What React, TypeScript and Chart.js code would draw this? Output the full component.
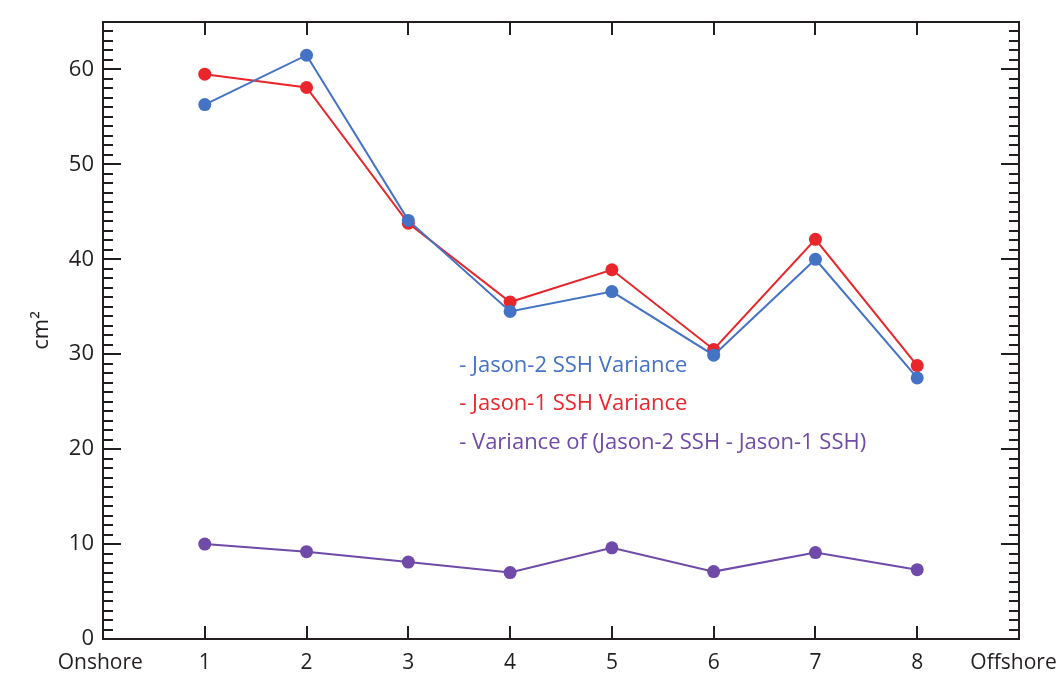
import React, { useEffect, useRef } from "react";
import { Chart, registerables } from "chart.js";

Chart.register(...registerables);

const positions = [1, 2, 3, 4, 5, 6, 7, 8];
const jason2 = [56.3, 61.5, 44.1, 34.5, 36.6, 29.9, 40.0, 27.5];
const jason1 = [59.5, 58.1, 43.8, 35.5, 38.9, 30.5, 42.1, 28.8];
const diffVar = [10.0, 9.2, 8.1, 7.0, 9.6, 7.1, 9.1, 7.3];
const endLabels = ["Onshore", "Offshore"];
const legendLines = [
  "- Jason-2 SSH Variance",
  "- Jason-1 SSH Variance",
  "- Variance of (Jason-2 SSH - Jason-1 SSH)",
];
const yTitle = "cm²";

const BLUE = "#4472c4";
const RED = "#e8262b";
const PURPLE = "#6f4aa8";
const FONT = "'Open Sans', sans-serif";
const NBSP = "\u00a0";

const framePlugin = {
  id: "frame",
  afterDraw(chart: any) {
    const { ctx, chartArea } = chart;
    const { left, right, top, bottom } = chartArea;
    const xs = chart.scales.x;
    const ys = chart.scales.y;
    ctx.save();
    ctx.strokeStyle = "#231f20";
    ctx.lineWidth = 2;
    ctx.strokeRect(left, top, right - left, bottom - top);
    ctx.beginPath();
    for (let v = ys.min; v < ys.max; v += 1) {
      const y = Math.round(ys.getPixelForValue(v));
      const len = v % 10 === 0 ? 18 : 10;
      ctx.moveTo(left, y);
      ctx.lineTo(left + len, y);
      ctx.moveTo(right, y);
      ctx.lineTo(right - len, y);
    }
    positions.forEach((p) => {
      const x = Math.round(xs.getPixelForValue(p));
      ctx.moveTo(x, bottom);
      ctx.lineTo(x, bottom - 13);
      ctx.moveTo(x, top);
      ctx.lineTo(x, top + 13);
    });
    ctx.stroke();

    ctx.fillStyle = "#231f20";
    ctx.font = `22px ${FONT}`;
    ctx.textAlign = "center";
    ctx.textBaseline = "middle";
    ctx.translate(42, (top + bottom) / 2);
    ctx.rotate(-Math.PI / 2);
    ctx.fillText(yTitle, 0, 0);
    ctx.restore();

    ctx.save();
    ctx.font = `22px ${FONT}`;
    ctx.textAlign = "left";
    ctx.textBaseline = "middle";
    const colors = [BLUE, RED, PURPLE];
    const lx = xs.getPixelForValue(3.5);
    const yVals = [28.8, 24.8, 20.7];
    legendLines.forEach((t, i) => {
      ctx.fillStyle = colors[i];
      ctx.fillText(t, lx, ys.getPixelForValue(yVals[i]));
    });
    ctx.restore();
  },
};

export default function App() {
  const ref = useRef<HTMLCanvasElement>(null);
  useEffect(() => {
    if (!ref.current) return;
    const mk = (vals: number[], color: string) => ({
      data: positions.map((p, i) => ({ x: p, y: vals[i] })),
      borderColor: color,
      backgroundColor: color,
      pointBackgroundColor: color,
      pointBorderColor: color,
      borderWidth: 2,
      pointRadius: 6.5,
      pointBorderWidth: 0,
      tension: 0,
    });
    const chart = new Chart(ref.current, {
      type: "line",
      data: {
        datasets: [mk(jason2, BLUE), mk(jason1, RED), mk(diffVar, PURPLE)],
      },
      options: {
        animation: false,
        responsive: false,
        maintainAspectRatio: false,
        layout: { padding: { top: 22, right: 41, left: 0, bottom: 0 } },
        plugins: { legend: { display: false }, tooltip: { enabled: false } },
        scales: {
          x: {
            type: "linear",
            min: 0,
            max: 9,
            grid: { display: false, drawTicks: false },
            border: { display: false },
            afterFit: (s: any) => {
              s.height = 42;
              s.paddingLeft = 0;
              s.paddingRight = 0;
            },
            ticks: {
              stepSize: 1,
              autoSkip: false,
              maxRotation: 0,
              padding: 11,
              color: "#231f20",
              font: { family: FONT, size: 21 },
              callback: (v: any) =>
                v === 0
                  ? endLabels[0] + NBSP
                  : v === 9
                  ? endLabels[1] + NBSP + NBSP
                  : String(v),
            },
          },
          y: {
            min: 0,
            max: 65,
            grid: { display: false, drawTicks: false },
            border: { display: false },
            afterFit: (s: any) => {
              s.width = 103;
              s.paddingTop = 0;
              s.paddingBottom = 0;
            },
            ticks: {
              stepSize: 10,
              padding: 9,
              color: "#231f20",
              font: { family: FONT, size: 22 },
              callback: (v: any) => (v % 10 === 0 ? String(v) : ""),
            },
          },
        },
      },
      plugins: [framePlugin],
    });
    return () => chart.destroy();
  }, []);
  return (
    <div style={{ position: "fixed", left: 0, top: 0, width: 1060, height: 681, background: "#fff" }}>
      <canvas ref={ref} width={1060} height={681} style={{ width: 1060, height: 681 }} />
    </div>
  );
}
